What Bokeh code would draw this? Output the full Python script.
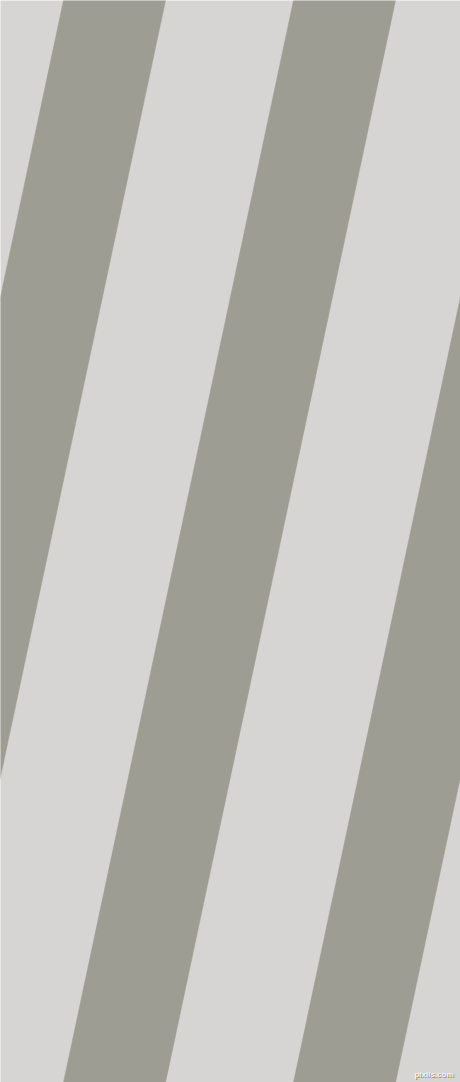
from bokeh.plotting import figure
from bokeh.models import Range1d
from bokeh.embed import file_html
from bokeh.resources import INLINE
from bokeh.core.properties import value

# Stripe pattern description (pixel units of the 460x1082 picture)
canvas_w = 460
canvas_h = 1082
stripe_left_top = [63, 293, 523]   # left edge of each dark stripe at the top
stripe_width = [102, 102, 102]     # horizontal width of each dark stripe
stripe_shift = [230, 230, 230]     # leftward shift of each stripe from top to bottom
bg_color = "#D7D4D4"
stripe_color = "#9E9D93"
watermark = ["pixlis.com"]

xs, ys = [], []
for x0, w, s in zip(stripe_left_top, stripe_width, stripe_shift):
    xs.append([x0, x0 + w, x0 + w - s, x0 - s])
    ys.append([0, 0, canvas_h, canvas_h])

p = figure(width=canvas_w, height=canvas_h, output_backend="svg", toolbar_location=None,
           x_range=Range1d(0, canvas_w), y_range=Range1d(canvas_h, 0),
           min_border=0, background_fill_color=bg_color, border_fill_color=bg_color)
p.axis.visible = False
p.grid.visible = False
p.outline_line_color = None

p.patches(xs, ys, fill_color=stripe_color, line_color=stripe_color, line_width=0.5)

p.text(x=[454], y=[1075], text=watermark, text_align="right", text_baseline="alphabetic",
       text_font=value("Liberation Sans"), text_font_style="bold", text_font_size="8px",
       text_color="#8f8f8f")
p.text(x=[453], y=[1074], text=watermark, text_align="right", text_baseline="alphabetic",
       text_font=value("Liberation Sans"), text_font_style="bold", text_font_size="8px",
       text_color="#f4f4f4")

html = file_html(p, INLINE)
html = html.replace("<body>", '<body style="margin:0;overflow:hidden">', 1)
open("out.html", "w").write(html)
